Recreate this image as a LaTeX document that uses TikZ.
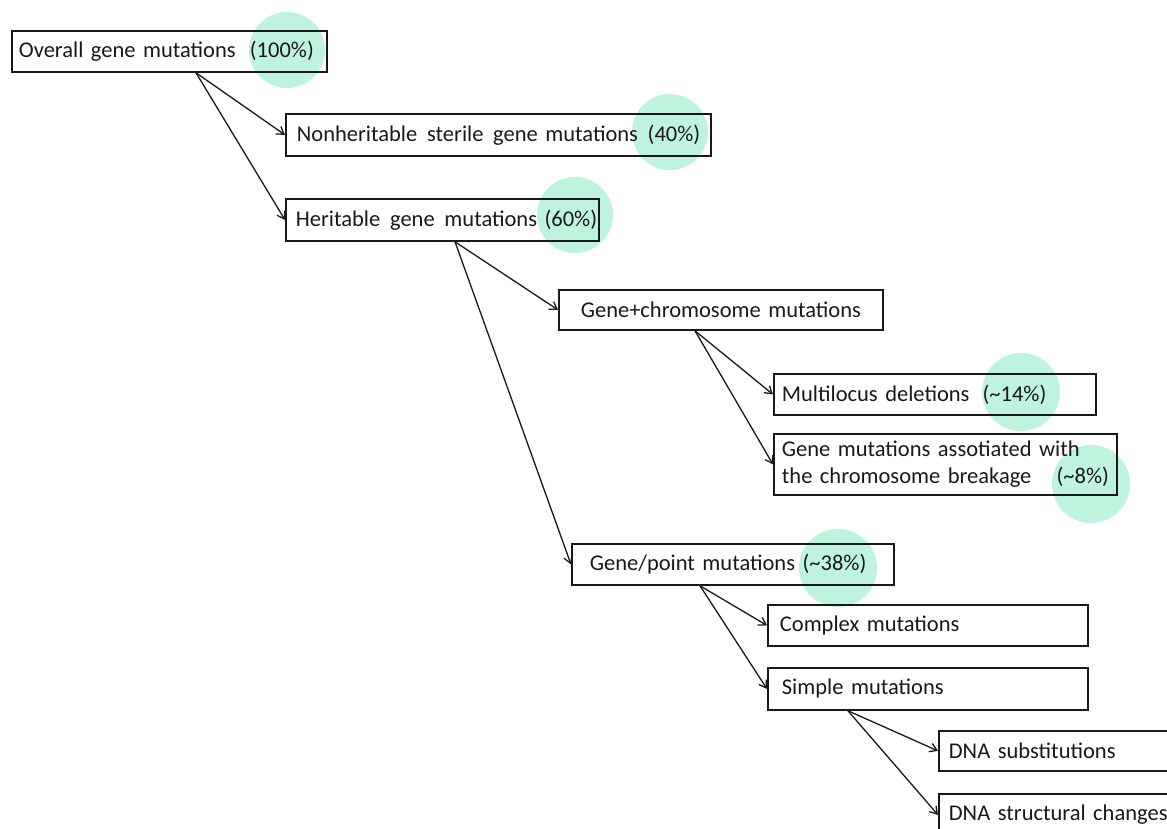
\documentclass[tikz,border=0pt]{standalone}
\usepackage{fontspec}
\setmainfont{Carlito}
\usetikzlibrary{arrows.meta}
\definecolor{mint}{RGB}{190,243,221}
\definecolor{ink}{RGB}{25,25,25}
\begin{document}
\begin{tikzpicture}[x=1pt,y=-1pt,
  box/.style={draw=ink,line width=1.8pt,anchor=north west,rectangle,font=\fontsize{22.5}{27}\selectfont,text=ink,align=left,inner ysep=0pt},
  blob/.style={circle,fill=mint,draw=none,minimum size=#1,inner sep=0pt},
  link/.style={draw=ink,line width=1.3pt,-{Straight Barb[length=7pt,width=9pt,line width=1.3pt]}}]
\useasboundingbox (0,0) rectangle (1167,828);
% highlight circles
\node[blob=76] (c1) at (287,50) {};
\node[blob=76] (c2) at (670,132) {};
\node[blob=76] (c3) at (575,215) {};
\node[blob=78] (c5) at (1021,392) {};
\node[blob=78] (c6) at (1091,484) {};
\node[blob=78] (c7) at (838,568) {};
% boxes
\node[box,inner xsep=7pt,text width=301pt,minimum height=41pt] (n1) at (11,30) {\mbox{Overall gene mutations\hspace{0.3em} (100\%)}};
\node[box,inner xsep=11pt,text width=403pt,minimum height=42pt] (n2) at (285,113) {\mbox{Nonheritable\hspace{0.1em} sterile\hspace{0.1em} gene mutations\hspace{0.1em} (40\%)}};
\node[box,inner xsep=10pt,text width=293pt,minimum height=42pt] (n3) at (285,198) {\mbox{Heritable\hspace{0.1em} gene\hspace{0.1em} mutations (60\%)}};
\node[box,inner xsep=10pt,text width=304pt,minimum height=40pt,align=center] (n4) at (558,289) {Gene+chromosome mutations};
\node[box,inner xsep=8pt,text width=306pt,minimum height=41pt] (n5) at (773,373) {\mbox{Multilocus deletions\hspace{0.25em} (\textasciitilde14\%)}};
\node[box,inner xsep=8pt,text width=327pt,minimum height=61pt] (n6) at (773,433) {Gene mutations assotiated with\\the chromosome breakage\hfill(\textasciitilde8\%)};
\node[box,inner xsep=18pt,text width=286pt,minimum height=41pt] (n7) at (571,543) {\mbox{Gene/point mutations (\textasciitilde38\%)}};
\node[box,inner xsep=12pt,text width=296pt,minimum height=41pt] (n8) at (767,604) {Complex mutations};
\node[box,inner xsep=14pt,text width=292pt,minimum height=42pt] (n9) at (767,667) {Simple mutations};
\node[box,inner xsep=10pt,text width=222pt,minimum height=40pt] (n10) at (938,730) {DNA substitutions};
\node[box,inner xsep=10pt,text width=222pt,minimum height=42pt] (n11) at (938,793) {\mbox{DNA structural changes}};
% connectors
\draw[link] ([xshift=185pt]n1.south west) -- (n2.west);
\draw[link] ([xshift=185pt]n1.south west) -- (n3.west);
\draw[link] ([xshift=170pt]n3.south west) -- (n4.west);
\draw[link] ([xshift=170pt]n3.south west) -- (n7.west);
\draw[link] ([xshift=137pt]n4.south west) -- (n5.west);
\draw[link] ([xshift=137pt]n4.south west) -- (n6.west);
\draw[link] ([xshift=129pt]n7.south west) -- (n8.west);
\draw[link] ([xshift=129pt]n7.south west) -- (n9.west);
\draw[link] ([xshift=81pt]n9.south west) -- (n10.west);
\draw[link] ([xshift=81pt]n9.south west) -- (n11.west);
\end{tikzpicture}
\end{document}
